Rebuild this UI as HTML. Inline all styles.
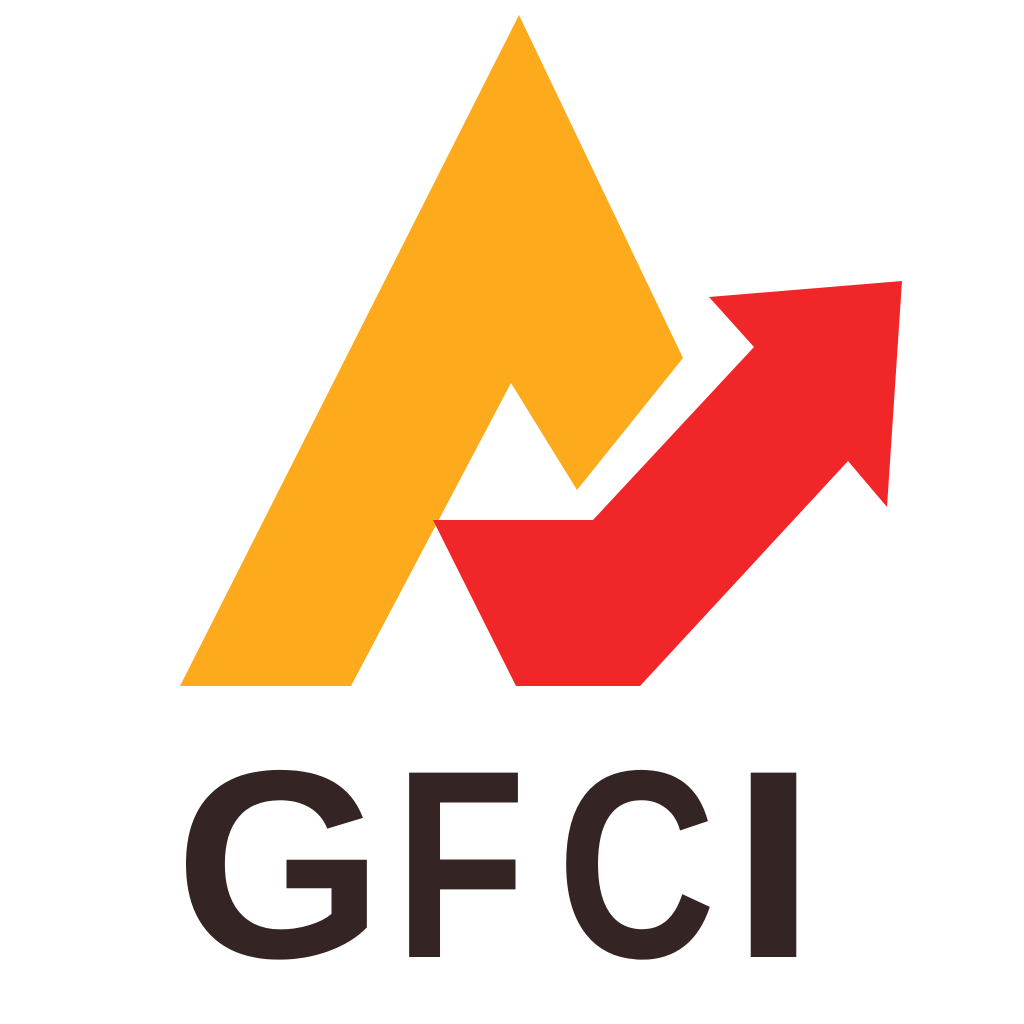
<!DOCTYPE html>
<html>
<head>
<meta charset="utf-8">
<style>
  html, body { margin: 0; padding: 0; background: #ffffff; }
  svg { display: block; }
</style>
</head>
<body>
<svg width="1024" height="1024" viewBox="0 0 1024 1024">
  <rect x="0" y="0" width="1024" height="1024" fill="#ffffff"/>
  <polygon fill="#FDAA1C"
    points="519,15 683,358 577,490 511,383 351,686 180,686"/>
  <polygon fill="#F12628"
    points="433,520 593,520 754,347 709,297 902,281 887,507 848,461 640,686 516,686"/>
  <g font-family="Liberation Sans, Arial, sans-serif" font-weight="bold" font-size="268" fill="#342424">
    <text x="175" y="957">G</text>
    <g transform="translate(410,0) scale(0.8,1) translate(-410,0)">
      <text x="391" y="957">F</text>
    </g>
    <g transform="translate(567,0) scale(0.82,1) translate(-567,0)">
      <text x="555" y="957">C</text>
    </g>
    <g transform="translate(752,0) scale(1.18,1) translate(-752,0)">
      <text x="733" y="957">I</text>
    </g>
  </g>
</svg>
</body>
</html>
